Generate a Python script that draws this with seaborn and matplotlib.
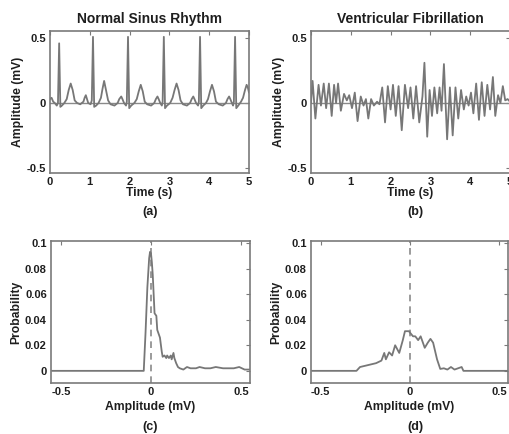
import numpy as np
import pandas as pd
import matplotlib
matplotlib.use("Agg")
import matplotlib.pyplot as plt
import seaborn as sns

# ---------------- data ----------------
nsr_time = [0.00, 0.04, 0.08, 0.12, 0.17, 0.20, 0.23, 0.26, 0.30,
            0.36, 0.42, 0.47, 0.52, 0.57, 0.62, 0.68, 0.76,
            0.84, 0.87, 0.90, 0.93, 0.96,
            1.02, 1.05, 1.08, 1.11, 1.16,
            1.22, 1.28, 1.32, 1.36, 1.40, 1.46, 1.52, 1.62,
            1.70, 1.74, 1.79, 1.82, 1.86,
            1.91, 1.93, 1.96, 1.99, 2.04,
            2.12, 2.18, 2.23, 2.28, 2.33, 2.38, 2.44, 2.54,
            2.62, 2.66, 2.70, 2.73, 2.77,
            2.81, 2.83, 2.86, 2.89, 2.94,
            3.02, 3.08, 3.13, 3.18, 3.23, 3.28, 3.34, 3.44,
            3.52, 3.56, 3.60, 3.63, 3.67,
            3.72, 3.74, 3.77, 3.80, 3.85,
            3.92, 3.97, 4.02, 4.07, 4.12, 4.17, 4.24, 4.34,
            4.42, 4.46, 4.50, 4.53, 4.57,
            4.60, 4.62, 4.65, 4.68, 4.73,
            4.80, 4.85, 4.90, 4.94, 4.97, 5.00]
nsr_amp = [0.03, 0.04, 0.01, 0.00, -0.02, 0.00, 0.46, -0.03, -0.02,
           0.00, 0.03, 0.10, 0.15, 0.10, 0.02, 0.00, -0.01,
           0.01, 0.04, 0.06, 0.03, 0.00,
           -0.01, 0.02, 0.51, -0.03, -0.02,
           0.00, 0.04, 0.11, 0.17, 0.11, 0.02, -0.01, -0.02,
           0.00, 0.03, 0.05, 0.03, 0.00,
           -0.02, 0.01, 0.51, -0.04, -0.02,
           0.00, 0.03, 0.09, 0.14, 0.09, 0.01, -0.01, -0.02,
           0.00, 0.03, 0.05, 0.03, 0.00,
           -0.02, 0.01, 0.51, -0.04, -0.02,
           0.00, 0.04, 0.10, 0.15, 0.10, 0.02, -0.01, -0.02,
           0.00, 0.03, 0.05, 0.03, 0.00,
           -0.02, 0.01, 0.51, -0.04, -0.02,
           0.00, 0.03, 0.09, 0.14, 0.09, 0.01, -0.01, -0.02,
           0.00, 0.03, 0.05, 0.03, 0.00,
           -0.02, 0.01, 0.51, -0.04, -0.02,
           0.01, 0.04, 0.10, 0.14, 0.12, 0.08]

vf_time = [0.00, 0.04, 0.11, 0.19, 0.25, 0.32, 0.38, 0.45, 0.52, 0.58, 0.63, 0.68, 0.75, 0.83,
           0.90, 0.96, 1.03, 1.10, 1.17, 1.25, 1.32, 1.38, 1.44, 1.51, 1.58, 1.66, 1.72, 1.79,
           1.86, 1.93, 2.00, 2.06, 2.13, 2.20, 2.28, 2.36, 2.44, 2.50, 2.57, 2.64, 2.72, 2.80,
           2.85, 2.92, 2.98, 3.04, 3.10, 3.17, 3.23, 3.28, 3.34, 3.42, 3.49, 3.56, 3.63, 3.70,
           3.77, 3.84, 3.90, 3.96, 4.02, 4.08, 4.15, 4.22, 4.29, 4.36, 4.43, 4.50, 4.57, 4.63,
           4.70, 4.76, 4.82, 4.88, 4.94, 5.00]
vf_amp = [0.00, 0.17, -0.12, 0.14, -0.02, 0.15, -0.04, 0.15, -0.10, 0.14, 0.00, 0.15, -0.06, 0.07,
          0.02, 0.06, -0.04, 0.08, -0.14, 0.05, -0.02, 0.03, -0.12, 0.03, -0.02, 0.01, -0.01, 0.12,
          -0.15, 0.13, -0.05, 0.14, -0.10, 0.13, -0.21, 0.14, -0.04, 0.12, -0.12, 0.13, -0.15, 0.05,
          0.31, -0.26, 0.10, -0.10, 0.12, -0.08, 0.12, -0.06, 0.30, -0.28, 0.12, -0.25, 0.12, -0.12,
          0.10, -0.05, 0.05, -0.02, 0.08, -0.08, 0.15, -0.13, 0.16, -0.10, 0.14, -0.05, 0.20, -0.10,
          0.06, 0.00, 0.13, 0.02, 0.03, 0.01]

nsr_bins = [-0.55, -0.04, -0.03, -0.02, -0.01, -0.005, 0.00, 0.005, 0.01, 0.015, 0.02, 0.03, 0.035,
            0.045, 0.05, 0.06, 0.065, 0.075, 0.085, 0.09, 0.10, 0.11, 0.115, 0.125, 0.13, 0.14,
            0.15, 0.16, 0.18, 0.20, 0.22, 0.25, 0.27, 0.30, 0.33, 0.36, 0.40, 0.43, 0.46, 0.49,
            0.52, 0.55]
nsr_prob = [0.0, 0.0, 0.03, 0.065, 0.088, 0.093, 0.092, 0.085, 0.075, 0.06, 0.045, 0.043, 0.032,
            0.028, 0.026, 0.015, 0.011, 0.012, 0.010, 0.012, 0.010, 0.012, 0.009, 0.014, 0.010, 0.006,
            0.003, 0.002, 0.001, 0.003, 0.002, 0.002, 0.003, 0.002, 0.002, 0.003, 0.002, 0.002, 0.002,
            0.003, 0.001, 0.001]

vf_bins = [-0.55, -0.30, -0.28, -0.25, -0.22, -0.19, -0.16, -0.144, -0.135, -0.117, -0.10, -0.083,
           -0.06, -0.04, -0.028, -0.006, 0.017, 0.03, 0.046, 0.06, 0.083, 0.10, 0.115, 0.13, 0.152,
           0.17, 0.19, 0.21, 0.23, 0.25, 0.27, 0.29, 0.30, 0.55]
vf_prob = [0.0, 0.0, 0.003, 0.004, 0.005, 0.006, 0.008, 0.014, 0.009, 0.0145, 0.012, 0.020,
           0.014, 0.024, 0.031, 0.031, 0.027, 0.027, 0.024, 0.027, 0.018, 0.022, 0.025, 0.022, 0.009,
           0.0015, 0.002, 0.001, 0.003, 0.001, 0.002, 0.003, 0.0, 0.0]

titles = ["Normal Sinus Rhythm", "Ventricular Fibrillation"]
panel_labels = ["(a)", "(b)", "(c)", "(d)"]
time_ticks = [0, 1, 2, 3, 4, 5]
amp_ticks = [-0.5, 0, 0.5]
amp_ticklabels = ["-0.5", "0", "0.5"]
prob_ticks = [0, 0.02, 0.04, 0.06, 0.08, 0.1]
prob_ticklabels = ["0", "0.02", "0.04", "0.06", "0.08", "0.1"]

# ---------------- style ----------------
sns.set_style("white")
plt.rcParams["font.family"] = ["Liberation Sans", "DejaVu Sans"]
plt.rcParams["font.weight"] = "bold"

LINE = "#777777"
SPINE = "#7a7a7a"
TXT = "#1e1e1e"

fig = plt.figure(figsize=(5.10, 4.34), dpi=100)
W, H = 510, 434
def rect(l, t, r, b):
    return [l / W, 1 - b / H, (r - l) / W, (b - t) / H]

ax_a = fig.add_axes(rect(50, 31, 249, 173))
ax_b = fig.add_axes(rect(311, 31, 510, 173))
ax_c = fig.add_axes(rect(51, 241, 250, 383))
ax_d = fig.add_axes(rect(311, 241, 508, 383))

def style(ax):
    for s in ax.spines.values():
        s.set_visible(True)
        s.set_color(SPINE)
        s.set_linewidth(1.2)
    ax.tick_params(direction="in", length=3, width=0.8, color=SPINE, top=True, right=True,
                   labelsize=8, labelcolor=TXT, pad=3)
    for lab in ax.get_xticklabels() + ax.get_yticklabels():
        lab.set_fontweight("bold")

# time-domain panels
for ax, t, v, title in [(ax_a, nsr_time, nsr_amp, titles[0]), (ax_b, vf_time, vf_amp, titles[1])]:
    df = pd.DataFrame({"t": t, "v": v})
    ax.axhline(0, color="#8a8a8a", lw=1.0, zorder=1)
    sns.lineplot(data=df, x="t", y="v", ax=ax, color=LINE, lw=1.3, estimator=None, zorder=2)
    ax.set_xlim(0, 5)
    ax.set_ylim(-0.54, 0.555)
    ax.set_xticks(time_ticks)
    ax.set_xticklabels([str(x) for x in time_ticks])
    ax.set_yticks(amp_ticks)
    ax.set_yticklabels(amp_ticklabels)
    ax.set_xlabel("Time (s)", fontsize=8.7, fontweight="bold", color=TXT, labelpad=0)
    ax.set_ylabel("Amplitude (mV)", fontsize=8.7, fontweight="bold", color=TXT, labelpad=2)
    ax.set_title(title, fontsize=10, fontweight="bold", color=TXT, pad=6)
    style(ax)

# histogram panels
for ax, b, p in [(ax_c, nsr_bins, nsr_prob), (ax_d, vf_bins, vf_prob)]:
    df = pd.DataFrame({"b": b, "p": p})
    ax.axvline(0, color="#8a8a8a", lw=1.2, ls=(0, (4, 3)), zorder=1)
    sns.lineplot(data=df, x="b", y="p", ax=ax, color=LINE, lw=1.3, estimator=None, zorder=2)
    ax.set_xlim(-0.555, 0.55)
    ax.set_ylim(-0.0095, 0.1015)
    ax.set_xticks(amp_ticks)
    ax.set_xticklabels(amp_ticklabels)
    ax.set_yticks(prob_ticks)
    ax.set_yticklabels(prob_ticklabels)
    ax.set_xlabel("Amplitude (mV)", fontsize=8.7, fontweight="bold", color=TXT, labelpad=3)
    ax.set_ylabel("Probability", fontsize=8.7, fontweight="bold", color=TXT, labelpad=2)
    style(ax)

# panel letters
for (x, y), lab in zip([(150, 212), (415, 212), (150, 427), (415, 427)], panel_labels):
    fig.text(x / W, 1 - y / H, lab, ha="center", va="center", fontsize=9,
             fontweight="bold", color=TXT)

fig.savefig("out.png", dpi=100)
